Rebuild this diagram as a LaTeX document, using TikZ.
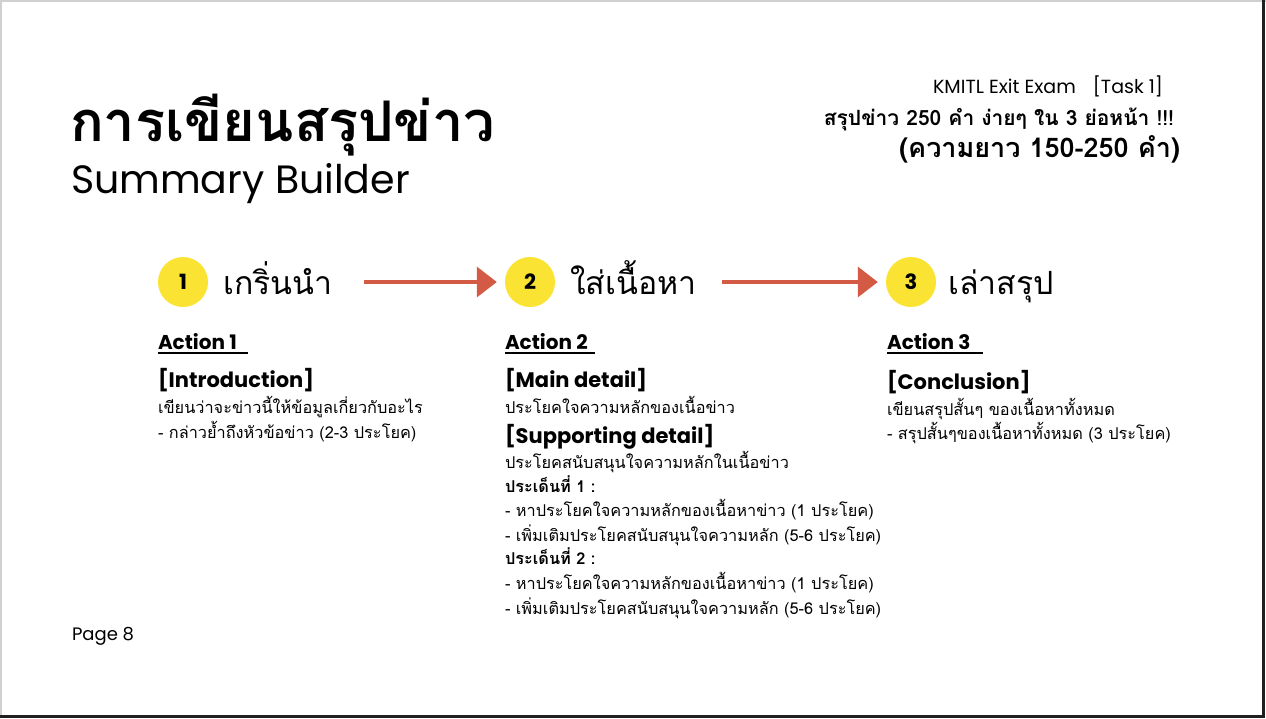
\documentclass[tikz,border=0pt]{standalone}
\usepackage{fontspec}
\usetikzlibrary{arrows.meta}
\setmainfont{Poppins}
\newfontfamily\thai[Script=Thai]{Loma}
\definecolor{stepyellow}{HTML}{FAE332}
\definecolor{flowred}{HTML}{D35A44}
\definecolor{edgegray}{HTML}{D0D0D0}
\definecolor{edgedark}{HTML}{202020}
\newcommand{\fs}[1]{\fontsize{#1}{#1}\selectfont}
\begin{document}
\begin{tikzpicture}[x=1pt,y=-1pt,
  txt/.style={anchor=base west,inner sep=0pt,outer sep=0pt},
  txtr/.style={anchor=base east,inner sep=0pt,outer sep=0pt},
  stepdot/.style={circle,fill=stepyellow,minimum size=50pt,inner sep=0pt,font=\fs{21}\bfseries},
  steplabel/.style={anchor=base west,inner sep=0pt,font=\thai\fs{32}},
  flow/.style={draw=flowred,line width=3.5pt,-{Triangle[length=20pt,width=30pt]}},
  actionhead/.style={txt,font=\fs{20}\bfseries},
  sechead/.style={txt,font=\fs{21}\bfseries},
  body/.style={txt,font=\thai\fs{16.3}},
  bodybold/.style={txt,font=\thai\fs{16.3}\bfseries},
  uline/.style={line width=1.3pt}]
\useasboundingbox (0,0) rectangle (1266,718);
% slide frame
\fill[white] (0,0) rectangle (1266,718);
\draw[edgegray,line width=1.5pt] (0.75,718) -- (0.75,0.75) -- (1266,0.75);
\draw[edgedark,line width=2.5pt] (0,716.5) -- (1263.5,716.5) -- (1263.5,0);

% title block
\node[txt,font=\thai\fs{56}\bfseries] (title) at (70,141) {การเขียนสรุปข่าว};
\node[txt,font=\fs{39.5}] (subtitle) at (71,193) {Summary Builder};

% top right notes
\node[txtr,font=\fs{19}] (exam) at (1163,93) {KMITL Exit Exam\hspace{0.9em}[Task 1]};
\node[txtr,font=\thai\fs{21}\bfseries] (goal) at (1174,125) {สรุปข่าว 250 คำ ง่ายๆ ใน 3 ย่อหน้า !!!};
\node[txtr,font=\thai\fs{27}\bfseries] (length) at (1180,157) {(ความยาว 150-250 คำ)};

% steps
\node[stepdot] (c1) at (183,282) {1};
\node[stepdot] (c2) at (530,282) {2};
\node[stepdot] (c3) at (911,282) {3};
\node[steplabel] (t1) at (223,294) {เกริ่นนำ};
\node[steplabel] (t2) at (570,294) {ใส่เนื้อหา};
\node[steplabel] (t3) at (948,294) {เล่าสรุป};
\coordinate (f1) at (364,282);
\coordinate (f2) at (722,282);
\draw[flow] (f1) -- ([xshift=-8pt]c2.west);
\draw[flow] (f2) -- ([xshift=-8pt]c3.west);

% step 1
\node[actionhead] (a1) at (158,349) {Action 1};
\draw[uline] ([yshift=-4pt]a1.base west) -- ++(90,0);
\node[sechead] (s1) at (158,387) {[Introduction]};
\node[body] (b1a) at (158,413) {เขียนว่าจะข่าวนี้ให้ข้อมูลเกี่ยวกับอะไร};
\node[body] (b1b) at (158,438) {- กล่าวย้ำถึงหัวข้อข่าว (2-3 ประโยค)};

% step 2
\node[actionhead] (a2) at (505,349) {Action 2};
\draw[uline] ([yshift=-4pt]a2.base west) -- ++(90,0);
\node[sechead] (s2a) at (505,387) {[Main detail]};
\node[body] (b2a) at (505,413) {ประโยคใจความหลักของเนื้อข่าว};
\node[sechead] (s2b) at (505,443) {[Supporting detail]};
\node[body] (b2b) at (505,468) {ประโยคสนับสนุนใจความหลักในเนื้อข่าว};
\node[bodybold] (p1) at (505,492) {ประเด็นที่ 1 :};
\node[body] (p1a) at (505,516) {- หาประโยคใจความหลักของเนื้อหาข่าว (1 ประโยค)};
\node[body] (p1b) at (505,541) {- เพิ่มเติมประโยคสนับสนุนใจความหลัก (5-6 ประโยค)};
\node[bodybold] (p2) at (505,564) {ประเด็นที่ 2 :};
\node[body] (p2a) at (505,589) {- หาประโยคใจความหลักของเนื้อหาข่าว (1 ประโยค)};
\node[body] (p2b) at (505,614) {- เพิ่มเติมประโยคสนับสนุนใจความหลัก (5-6 ประโยค)};

% step 3
\node[actionhead] (a3) at (887,349) {Action 3};
\draw[uline] ([yshift=-4pt]a3.base west) -- ++(96,0);
\node[sechead] (s3) at (887,389) {[Conclusion]};
\node[body] (b3a) at (887,415) {เขียนสรุปสั้นๆ ของเนื้อหาทั้งหมด};
\node[body] (b3b) at (887,439) {- สรุปสั้นๆของเนื้อหาทั้งหมด (3 ประโยค)};

% footer
\node[txt,font=\fs{18}] (page) at (72,640) {Page 8};
\end{tikzpicture}
\end{document}
